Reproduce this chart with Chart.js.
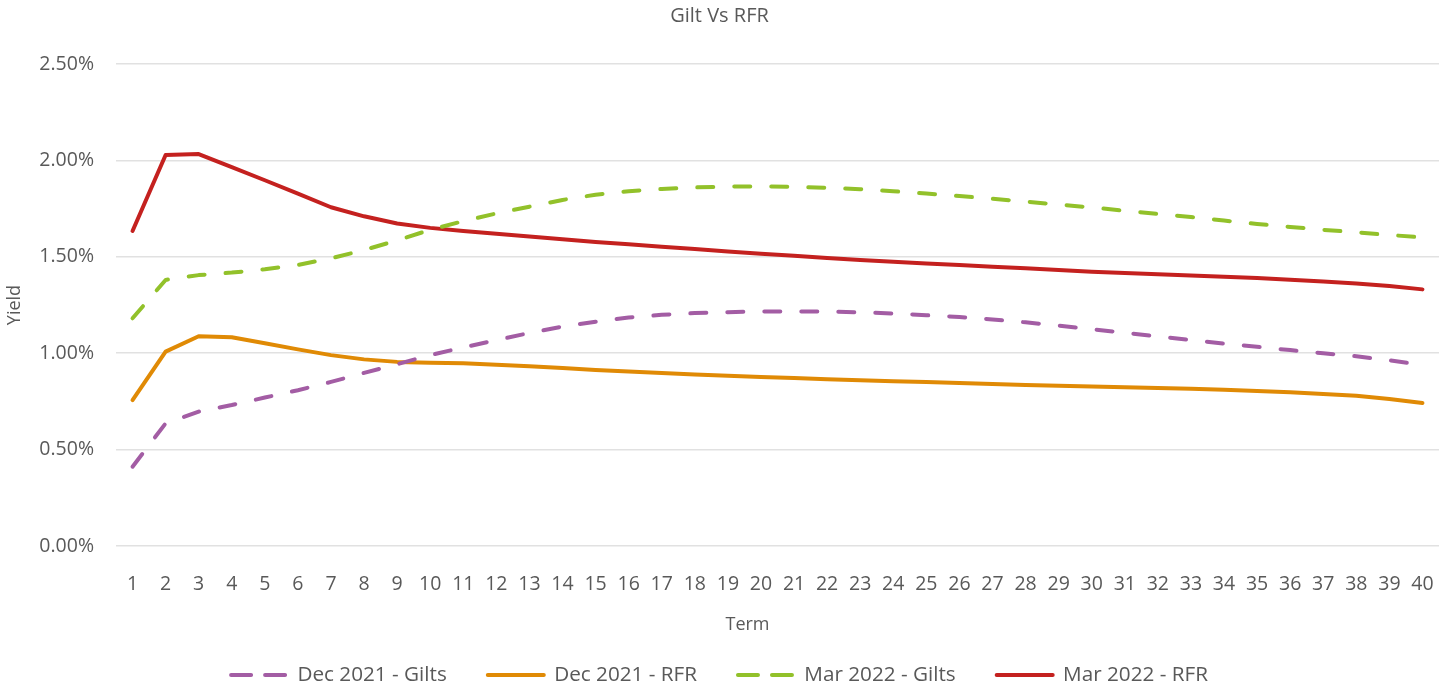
<!DOCTYPE html>
<html>
<head>
<meta charset="utf-8">
<title>Gilt Vs RFR</title>
<script src="https://cdn.jsdelivr.net/npm/chart.js"></script>
<style>
  html, body { margin: 0; padding: 0; background: #fff; }
  #wrap { width: 1439px; height: 685px; }
</style>
</head>
<body>
<div id="wrap"><canvas id="myChart"></canvas></div>
<script>
const terms = ["1", "2", "3", "4", "5", "6", "7", "8", "9", "10",
  "11", "12", "13", "14", "15", "16", "17", "18", "19", "20",
  "21", "22", "23", "24", "25", "26", "27", "28", "29", "30",
  "31", "32", "33", "34", "35", "36", "37", "38", "39", "40"];

// yields in %
const dec21Gilts = [0.411, 0.636, 0.697, 0.731, 0.770, 0.808, 0.851, 0.898, 0.943, 0.990,
  1.030, 1.068, 1.105, 1.138, 1.163, 1.185, 1.199, 1.208, 1.213, 1.216,
  1.217, 1.216, 1.212, 1.206, 1.197, 1.188, 1.175, 1.160, 1.143, 1.125,
  1.106, 1.087, 1.068, 1.050, 1.033, 1.016, 1.000, 0.984, 0.963, 0.940];

const dec21Rfr = [0.757, 1.008, 1.088, 1.083, 1.052, 1.020, 0.990, 0.968, 0.955, 0.951,
  0.948, 0.940, 0.932, 0.923, 0.913, 0.905, 0.897, 0.890, 0.883, 0.877,
  0.871, 0.865, 0.860, 0.855, 0.850, 0.845, 0.840, 0.835, 0.831, 0.827,
  0.823, 0.819, 0.815, 0.810, 0.804, 0.797, 0.789, 0.779, 0.763, 0.742];

const mar22Gilts = [1.181, 1.380, 1.405, 1.418, 1.435, 1.458, 1.492, 1.535, 1.585, 1.640,
  1.685, 1.725, 1.760, 1.795, 1.822, 1.840, 1.852, 1.860, 1.864, 1.865,
  1.863, 1.858, 1.851, 1.840, 1.828, 1.815, 1.801, 1.786, 1.771, 1.756,
  1.739, 1.722, 1.706, 1.688, 1.670, 1.655, 1.640, 1.627, 1.613, 1.601];

const mar22Rfr = [1.634, 2.028, 2.033, 1.965, 1.897, 1.828, 1.757, 1.710, 1.673, 1.650,
  1.634, 1.620, 1.605, 1.591, 1.577, 1.565, 1.552, 1.540, 1.528, 1.516,
  1.505, 1.494, 1.484, 1.474, 1.465, 1.457, 1.448, 1.440, 1.431, 1.423,
  1.416, 1.410, 1.403, 1.397, 1.390, 1.381, 1.372, 1.362, 1.348, 1.331];

const colors = {
  purple: "#A35DA4",
  orange: "#E08A05",
  green: "#92C12A",
  red: "#C4211F",
  text: "#595959",
  grid: "#E1E1E1",
};

Chart.defaults.font.family = "'Open Sans', sans-serif";
Chart.defaults.color = colors.text;

function line(label, data, color, dashed) {
  return {
    label: label,
    data: data,
    borderColor: color,
    backgroundColor: color,
    borderWidth: 4,
    borderDash: dashed ? [16, 21] : [],
    borderCapStyle: "round",
    borderJoinStyle: "round",
    pointRadius: 0,
    pointHoverRadius: 0,
    tension: 0,
    fill: false,
  };
}

// "Term" sits a little left of the plot centre, like the original
const termTitle = {
  id: "termTitle",
  afterDraw(chart) {
    const { ctx, chartArea } = chart;
    ctx.save();
    ctx.font = "18px 'Open Sans', sans-serif";
    ctx.fillStyle = colors.text;
    ctx.textAlign = "center";
    ctx.textBaseline = "middle";
    ctx.fillText("Term", (chartArea.left + chartArea.right) / 2 - 30, chartArea.bottom + 79);
    ctx.restore();
  },
};

const ctx = document.getElementById("myChart");
new Chart(ctx, {
  type: "line",
  data: {
    labels: terms,
    datasets: [
      line("Dec 2021 - Gilts", dec21Gilts, colors.purple, true),
      line("Dec 2021 - RFR", dec21Rfr, colors.orange, false),
      line("Mar 2022 - Gilts", mar22Gilts, colors.green, true),
      line("Mar 2022 - RFR", mar22Rfr, colors.red, false),
    ],
  },
  plugins: [termTitle],
  options: {
    responsive: true,
    maintainAspectRatio: false,
    animation: false,
    layout: { padding: { left: 0, right: 0, top: 0, bottom: -10.35 } },
    plugins: {
      title: {
        display: true,
        text: "Gilt Vs RFR",
        color: colors.text,
        font: { size: 20, weight: "normal" },
        padding: { top: 4, bottom: 36 },
      },
      legend: {
        position: "bottom",
        labels: {
          usePointStyle: true,
          pointStyle: "line",
          pointStyleWidth: 56,
          padding: 41,
          color: colors.text,
          font: { size: 20.7 },
          generateLabels: (chart) => {
            const items = Chart.defaults.plugins.legend.labels.generateLabels(chart);
            items.forEach((it) => {
              const ds = chart.data.datasets[it.datasetIndex];
              it.lineDash = ds.borderDash.length ? [20, 14] : [];
              it.lineWidth = 4;
              it.lineCap = "round";
              it.strokeStyle = ds.borderColor;
            });
            return items;
          },
        },
      },
      tooltip: { enabled: false },
    },
    scales: {
      x: {
        offset: true,
        grid: { display: false },
        border: { display: false },
        ticks: { padding: 19, maxRotation: 0, autoSkip: false, font: { size: 19.5 }, color: colors.text },
        afterFit: (scale) => {
          scale.height = 77.65;
          scale.paddingLeft = 0;
          scale.paddingRight = 0;
        },
      },
      y: {
        min: 0,
        max: 2.5,
        grid: { color: colors.grid, lineWidth: 1.5, drawTicks: false },
        border: { display: false },
        ticks: {
          stepSize: 0.5,
          padding: 22,
          font: { size: 19.5 },
          color: colors.text,
          callback: (v) => v.toFixed(2) + "%",
        },
        title: { display: true, text: "Yield", font: { size: 18 }, color: colors.text, padding: { top: 4, bottom: 0 } },
        afterFit: (scale) => { scale.width = 116; },
      },
    },
  },
});
</script>
</body>
</html>
